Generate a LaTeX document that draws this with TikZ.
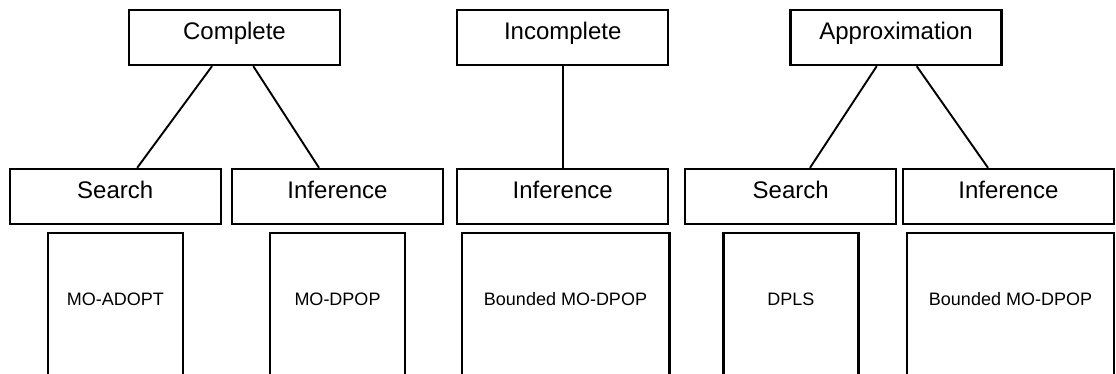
\documentclass[tikz,border=0pt]{standalone}
\usepackage{fontspec}
\setmainfont{Liberation Sans}
\begin{document}
\begin{tikzpicture}[x={(1pt,0pt)}, y={(0pt,-1pt)},
  box/.style={draw, line width=2.4pt, rectangle, inner sep=0pt,
    minimum width=211pt, minimum height=55pt,
    font=\fontsize{24}{28}\selectfont, text height=17.2pt, text depth=13.6pt},
  algo/.style={draw, line width=2.4pt, rectangle, inner sep=0pt,
    minimum height=180pt,
    font=\fontsize{18}{21}\selectfont, text height=12.9pt, text depth=48.6pt},
  link/.style={line width=1.9pt}]
\useasboundingbox (0,0) rectangle (1116,374);
\clip (0,0) rectangle (1116,374);

% top level: kinds of algorithms
\node[box] (complete)   at (234.5,37.5) {Complete};
\node[box] (incomplete) at (562.7,37.5) {Incomplete};
\node[box] (approx)     at (896,37.5)   {Approximation};

% second level: techniques
\node[box] (cs) at (115.2,196.5)  {Search};
\node[box] (ci) at (337.5,196.5)  {Inference};
\node[box] (ii) at (562.7,196.5)  {Inference};
\node[box] (as) at (790.7,196.5)  {Search};
\node[box] (ai) at (1008.4,196.5) {Inference};

% algorithms (boxes run past the lower edge)
\node[algo, minimum width=135pt]   (moadopt)  at (115.3,323)  {MO-ADOPT};
\node[algo, minimum width=135pt]   (modpop)   at (337.5,323)  {MO-DPOP};
\node[algo, minimum width=207.6pt] (bmodpopa) at (565.5,323)  {Bounded MO-DPOP};
\node[algo, minimum width=135pt]   (dpls)     at (790.8,323)  {DPLS};
\node[algo, minimum width=207pt]   (bmodpopb) at (1010.5,323) {Bounded MO-DPOP};

% connectors
\draw[link] ([xshift=-22.5pt]complete.south) -- ([xshift=22pt]cs.north);
\draw[link] ([xshift=18.8pt]complete.south) -- ([xshift=-18.5pt]ci.north);
\draw[link] (incomplete.south) -- (ii.north);
\draw[link] ([xshift=-19.3pt]approx.south) -- ([xshift=19.3pt]as.north);
\draw[link] ([xshift=20.7pt]approx.south) -- ([xshift=-20.4pt]ai.north);
\end{tikzpicture}
\end{document}
